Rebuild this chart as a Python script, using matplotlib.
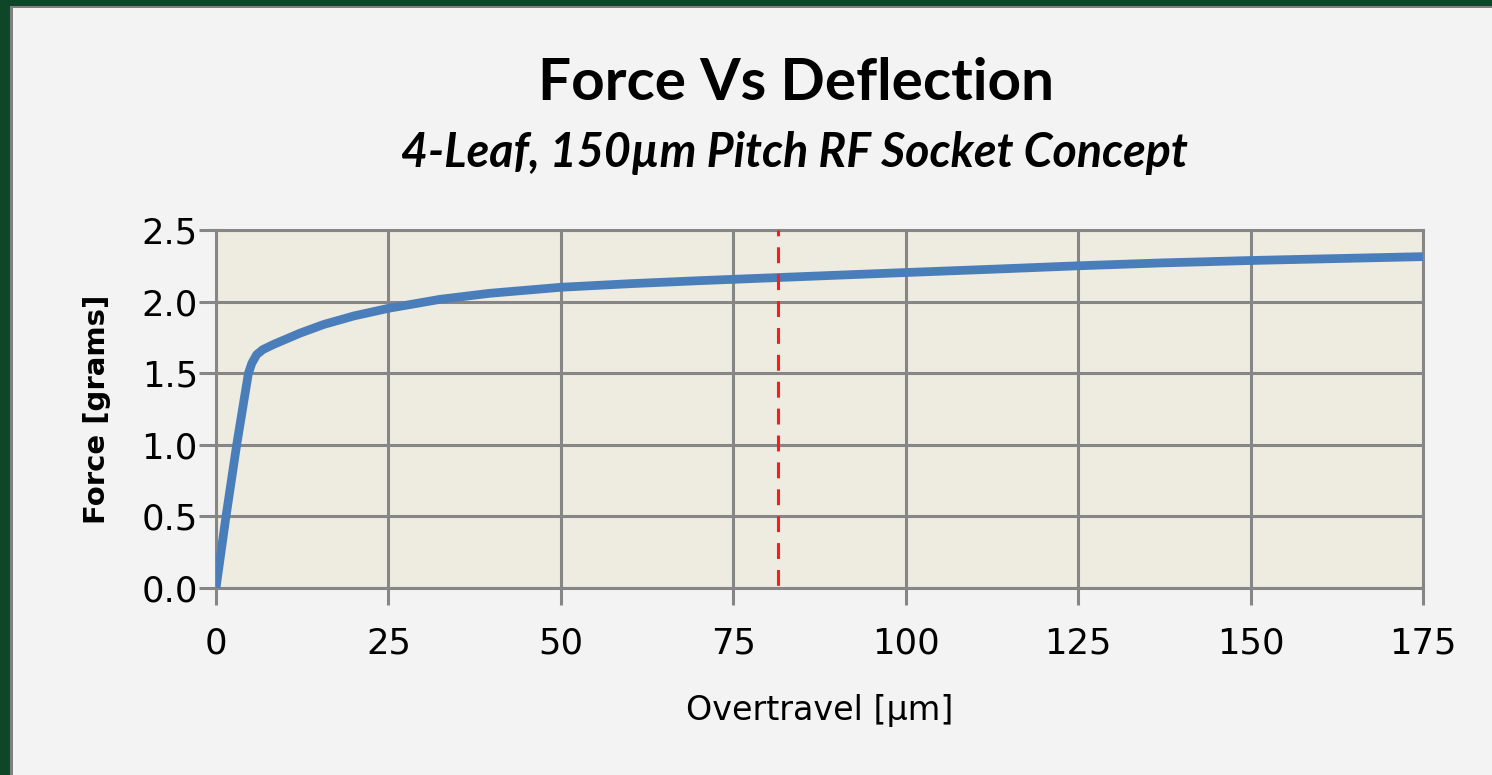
import matplotlib
matplotlib.use("Agg")
import matplotlib.pyplot as plt
from matplotlib.patches import Rectangle

# ---- data ----
overtravel_um = [0, 1.45, 3.0, 4.7, 5.2, 5.9, 6.8, 8.3, 10.0, 12.2, 15.6, 20.0, 25.0,
                 32.5, 39.7, 50, 60, 70, 81.5, 92, 100, 112, 125, 137, 150, 162, 175]
force_g = [0.0, 0.5, 1.0, 1.5, 1.57, 1.63, 1.665, 1.70, 1.735, 1.78, 1.84, 1.90, 1.953,
           2.016, 2.058, 2.10, 2.125, 2.146, 2.168, 2.188, 2.203, 2.225, 2.25, 2.27, 2.287, 2.30, 2.314]
marker_x = 81.5
x_ticks = [0, 25, 50, 75, 100, 125, 150, 175]
y_ticks = [0.0, 0.5, 1.0, 1.5, 2.0, 2.5]
title = "Force Vs Deflection"
subtitle = "4-Leaf, 150µm Pitch RF Socket Concept"
xlabel = "Overtravel [µm]"
ylabel = "Force [grams]"

W, H = 1492, 775
fig = plt.figure(figsize=(W / 100, H / 100), dpi=100)
fig.patch.set_facecolor("#0e4628")
fig.patches.append(Rectangle((10 / W, 0), 1, 1 - 6 / H, transform=fig.transFigure,
                             facecolor="#808080", edgecolor="none", zorder=-2))
fig.patches.append(Rectangle((13 / W, 0), 1, 1 - 8 / H, transform=fig.transFigure,
                             facecolor="#f3f3f3", edgecolor="none", zorder=-1))

ax = fig.add_axes([216 / W, 187 / H, (1423 - 216) / W, (588 - 230) / H])
ax.set_facecolor("#eeebe1")
grid_c = "#868686"
ax.plot(overtravel_um, force_g, color="#4a7ebb", lw=6.3, solid_capstyle="butt",
        solid_joinstyle="round", zorder=3)
ax.plot([marker_x, marker_x], [2.5, 0.0], color="#ff1a1a", lw=2.2,
        linestyle=(3.3, (5.2, 3.6)), zorder=4)

ax.set_xlim(0, 175)
ax.set_ylim(0, 2.5)
ax.set_xticks(x_ticks)
ax.set_xticklabels([str(v) for v in x_ticks])
ax.set_yticks(y_ticks)
ax.set_yticklabels([f"{v:.1f}" for v in y_ticks])
ax.grid(True, color=grid_c, lw=2.2, zorder=1)
ax.set_axisbelow(True)
for s in ax.spines.values():
    s.set_color(grid_c)
    s.set_linewidth(2.2)
ax.tick_params(axis="both", length=12, width=2.2, color=grid_c, labelsize=25.5,
               labelcolor="black")
ax.tick_params(axis="x", pad=16)
ax.tick_params(axis="y", pad=1)
for lab in ax.get_xticklabels() + ax.get_yticklabels():
    lab.set_family("DejaVu Sans")

ax.set_xlabel(xlabel, fontsize=24, family="DejaVu Sans", labelpad=24)
ax.set_ylabel(ylabel, fontsize=21, family="DejaVu Sans", fontweight="bold", labelpad=22)

fig.text(796 / W, 1 - 100 / H, title, ha="center", va="baseline", fontsize=42,
         fontweight="bold", family="Lato")
fig.text(794 / W, 1 - 167 / H, subtitle, ha="center", va="baseline", fontsize=33.5,
         fontweight="bold", style="italic", family="Lato")

fig.savefig("out.png", dpi=100, facecolor=fig.get_facecolor())
